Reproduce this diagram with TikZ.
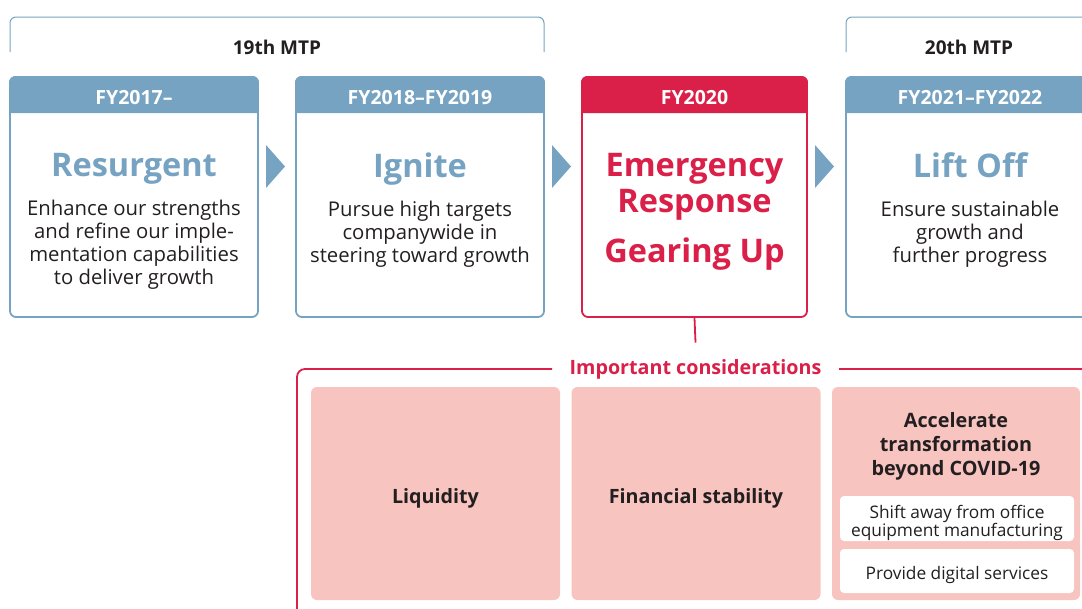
\documentclass[tikz,border=0pt]{standalone}
\usepackage{fontspec}
\setmainfont{Open Sans}
\usetikzlibrary{positioning}
\definecolor{mtpblue}{HTML}{76A3C1}
\definecolor{mtpred}{HTML}{DA1F48}
\definecolor{mtppink}{HTML}{F8C4C0}
\definecolor{mtptext}{HTML}{231F20}
\tikzset{
  stagebox/.style={draw=#1, line width=1.8pt, rounded corners=6pt, inner sep=0pt,
    minimum width=248pt, minimum height=240pt},
  headtext/.style={text=white, font=\fontsize{19.5}{22}\selectfont\bfseries, inner sep=0pt},
  titletext/.style={text=#1, font=\fontsize{32.5}{36}\selectfont\bfseries, align=center},
  bodytext/.style={text=mtptext, font=\fontsize{20.3}{23}\selectfont, align=center},
  pinkbox/.style={fill=mtppink, rounded corners=6pt, inner sep=0pt, minimum width=249pt,
    minimum height=213pt, text height=20pt, text depth=0pt, text=mtptext,
    font=\fontsize{19.7}{24}\selectfont\bfseries},
  whitebox/.style={fill=white, rounded corners=4pt, inner sep=0pt, minimum width=234pt},
}
\begin{document}
\begin{tikzpicture}[x=1pt,y=-1pt]
\clip (0,0) rectangle (1082,608);
% medium-term plan brackets
\draw[mtpblue, line width=1pt, rounded corners=6pt] (10,52) -- (10,17) -- (544,17) -- (544,52);
\draw[mtpblue, line width=1pt, rounded corners=6pt] (846,52) -- (846,17) -- (1095,17) -- (1095,52);
\node[text=mtptext, font=\fontsize{19}{22}\selectfont\bfseries] (m19) at (277,47) {19th MTP};
\node[text=mtptext, font=\fontsize{19}{22}\selectfont\bfseries] (m20) at (969,47) {20th MTP};
% stages
\node[stagebox=mtpblue] (s1) at (134,197) {};
\node[stagebox=mtpblue] (s2) at (420,197) {};
\node[stagebox=mtpred, minimum width=225pt] (s3) at (694.5,197) {};
\node[stagebox=mtpblue] (s4) at (970,197) {};
\foreach \s/\c/\t in {s1/mtpblue/FY2017--, s2/mtpblue/FY2018--FY2019, s3/mtpred/FY2020, s4/mtpblue/FY2021--FY2022}{
  \fill[\c] ([yshift=-37pt]\s.north west) [rounded corners=6pt] -- (\s.north west)
    -- (\s.north east) [sharp corners] -- ([yshift=-37pt]\s.north east) -- cycle;
  \node[headtext] (h\s) at ([yshift=-21pt]\s.north) {\t};
}
\fill[mtpblue] (266,145) -- (285,166.5) -- (266,188) -- cycle;
\fill[mtpblue] (552,145) -- (571,166.5) -- (552,188) -- cycle;
\fill[mtpblue] (815,145) -- (834,166.5) -- (815,188) -- cycle;
\node[titletext=mtpblue] (t1) at (134,169) {Resurgent};
\node[bodytext] (b1) at (134,245) {Enhance our strengths\\and refine our imple-\\mentation capabilities\\to deliver growth};
\node[titletext=mtpblue] (t2) at (420,169) {Ignite};
\node[bodytext] (b2) at (420,234) {Pursue high targets\\companywide in\\steering toward growth};
\node[titletext=mtpred] (t3) at (694.5,187) {Emergency\\Response};
\node[titletext=mtpred] (t3b) at (694.5,254) {Gearing Up};
\node[titletext=mtpblue] (t4) at (970,165) {Lift Off};
\node[bodytext] (b4) at (970,234) {Ensure sustainable\\growth and\\further progress};
% important considerations
\node[text=mtpred, font=\fontsize{19.7}{22}\selectfont\bfseries] (imp) at (695.5,369) {Important considerations};
\draw[mtpred, line width=1.8pt] (s3.south) -- ([yshift=13pt]imp.north);
\draw[mtpred, line width=1.8pt, rounded corners=8pt] ([xshift=-14pt]imp.west) -- (297,369) -- (297,620);
\draw[mtpred, line width=1.8pt] ([xshift=14pt]imp.east) -- (1095,369);
\node[pinkbox] (liq) at (435.5,493.5) {Liquidity};
\node[pinkbox] (fin) at (696,493.5) {Financial stability};
\node[pinkbox, minimum width=248pt] (acc) at (956,493.5) {};
\node[text=mtptext, font=\fontsize{19.8}{24}\selectfont\bfseries, align=center] (acct) at (956,446.5) {Accelerate\\transformation\\beyond COVID-19};
\node[whitebox, minimum height=45pt] (shift) at (957,518.5) {};
\node[text=mtptext, font=\fontsize{17.3}{18}\selectfont, align=center] (shiftt) at (957,522.5) {Shift away from office\\equipment manufacturing};
\node[whitebox, minimum height=44pt] (dig) at (957,571) {};
\node[text=mtptext, font=\fontsize{17.3}{18}\selectfont] (digt) at (957,575) {Provide digital services};
\end{tikzpicture}
\end{document}
